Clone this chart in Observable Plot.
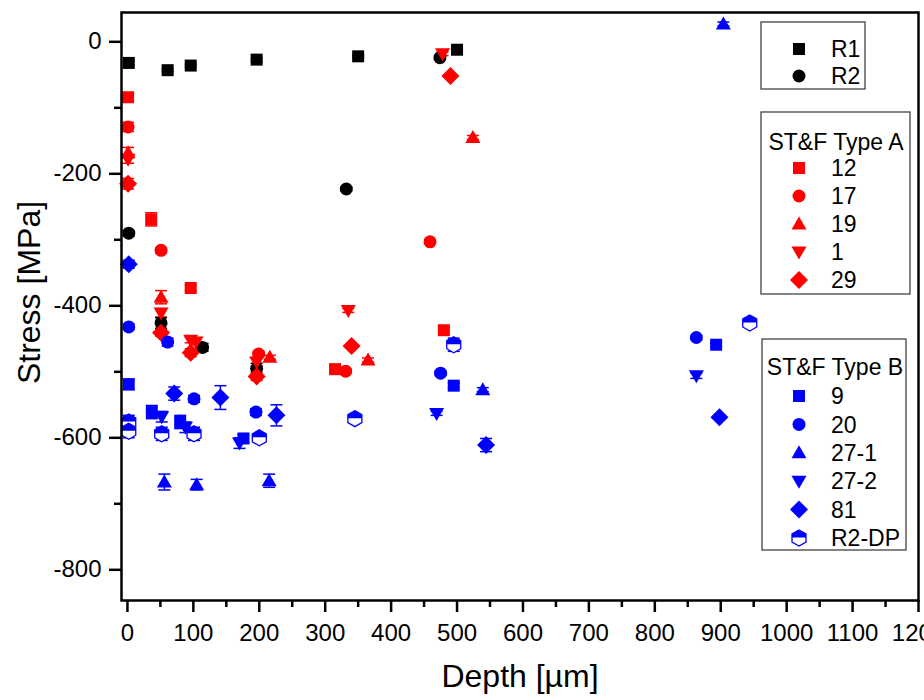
<!DOCTYPE html>
<html><head><meta charset="utf-8">
<script src="https://cdn.jsdelivr.net/npm/d3@7"></script>
<script src="https://cdn.jsdelivr.net/npm/@observablehq/plot@0.6"></script>
<style>body{margin:0;background:#fff;}</style>
</head><body><div id="chart"></div>
<script>
// ---------- data ----------
const depth_R1  = [2, 61, 96, 196, 350, 500];
const stress_R1 = [-32, -43, -36, -27, -22, -12];
const err_R1    = [3, 2, 2, 2, 2, 2];

const depth_R2  = [2, 51, 114, 196, 332, 474];
const stress_R2 = [-290, -426, -463, -495, -223, -24];
const err_R2    = [4, 8, 6, 8, 3, 3];

const depth_A12  = [1, 36, 96, 315, 480];
const stress_A12 = [-84, -269, -373, -496, -437];
const err_A12    = [4, 10, 4, 7, 3];

const depth_A17  = [1, 51, 199, 331, 459];
const stress_A17 = [-129, -316, -473, -499, -303];
const err_A17    = [7, 4, 4, 3, 3];

const depth_A19  = [1, 51, 216, 365, 524];
const stress_A19 = [-168, -387, -478, -482, -145];
const err_A19    = [8, 10, 3, 3, 3];

const depth_A1  = [1, 51, 96, 104, 196, 335, 478];
const stress_A1 = [-178, -411, -452, -455, -485, -407, -18];
const err_A1    = [6, 6, 4, 4, 6, 3, 3];

const depth_A29  = [1, 51, 96, 196, 340, 490];
const stress_A29 = [-215, -441, -471, -507, -461, -52];
const err_A29    = [8, 5, 6, 6, 3, 3];

const depth_B9  = [2, 37, 80, 176, 495, 893];
const stress_B9 = [-519, -561, -576, -601, -521, -459];
const err_B9    = [8, 10, 10, 6, 4, 3];

const depth_B20  = [2, 61, 101, 195, 475, 863];
const stress_B20 = [-432, -455, -541, -561, -502, -448];
const err_B20    = [4, 6, 5, 5, 3, 3];

const depth_B271  = [56, 105, 215, 539, 904];
const stress_B271 = [-667, -671, -665, -527, 27];
const err_B271    = [12, 8, 10, 3, 3];

const depth_B272  = [52, 88, 170, 469, 863];
const stress_B272 = [-568, -584, -608, -563, -506];
const err_B272    = [8, 8, 8, 3, 4];

const depth_B81  = [2, 71, 141, 226, 544, 898];
const stress_B81 = [-337, -533, -539, -566, -611, -569];
const err_B81    = [6, 10, 18, 16, 10, 3];

const depth_BDP  = [2, 2, 52, 101, 200, 345, 495, 944];
const stress_BDP = [-576, -590, -594, -594, -600, -571, -459, -426];
const err_BDP    = [10, 10, 10, 10, 6, 4, 10, 4];

const xTicksMajor = [0,100,200,300,400,500,600,700,800,900,1000,1100,1200];
const xTicksMinor = [50,150,250,350,450,550,650,750,850,950,1050,1150];
const yTicksMajor = [-800,-600,-400,-200,0];
const yTicksMinor = [-700,-500,-300,-100];

const legendGroup0 = ["R1","R2"];
const legendGroupA = ["12","17","19","1","29"];
const legendGroupB = ["9","20","27-1","27-2","81","R2-DP"];

// ---------- series table ----------
const series = [
  {name:"R1", depth:depth_R1, stress:stress_R1, err:err_R1},
  {name:"R2", depth:depth_R2, stress:stress_R2, err:err_R2},
  {name:"12", depth:depth_A12, stress:stress_A12, err:err_A12},
  {name:"17", depth:depth_A17, stress:stress_A17, err:err_A17},
  {name:"19", depth:depth_A19, stress:stress_A19, err:err_A19},
  {name:"1",  depth:depth_A1,  stress:stress_A1,  err:err_A1},
  {name:"29", depth:depth_A29, stress:stress_A29, err:err_A29},
  {name:"9",  depth:depth_B9,  stress:stress_B9,  err:err_B9},
  {name:"20", depth:depth_B20, stress:stress_B20, err:err_B20},
  {name:"27-1", depth:depth_B271, stress:stress_B271, err:err_B271},
  {name:"27-2", depth:depth_B272, stress:stress_B272, err:err_B272},
  {name:"81", depth:depth_B81, stress:stress_B81, err:err_B81},
  {name:"R2-DP", depth:depth_BDP, stress:stress_BDP, err:err_BDP}
];

// ---------- styles ----------
const styles = {
  "R1":{color:"#000000", shape:"square"}, "R2":{color:"#000000", shape:"circle"},
  "12":{color:"#ff0000", shape:"square"}, "17":{color:"#ff0000", shape:"circle"},
  "19":{color:"#ff0000", shape:"up"}, "1":{color:"#ff0000", shape:"down"},
  "29":{color:"#ff0000", shape:"diamond"},
  "9":{color:"#0000ff", shape:"square"}, "20":{color:"#0000ff", shape:"circle"},
  "27-1":{color:"#0000ff", shape:"up"}, "27-2":{color:"#0000ff", shape:"down"},
  "81":{color:"#0000ff", shape:"diamond"}, "R2-DP":{color:"#0000ff", shape:"hex"}
};

function poly(pts){
  return {draw(ctx, size){
    const k = Math.sqrt(size/Math.PI)/6;
    ctx.moveTo(pts[0][0]*k, pts[0][1]*k);
    for (let i=1;i<pts.length;i++) ctx.lineTo(pts[i][0]*k, pts[i][1]*k);
    ctx.closePath();
  }};
}
const symbols = {
  square: poly([[-6,-6],[6,-6],[6,6],[-6,6]]),
  circle: {draw(ctx,size){const r=6.5*Math.sqrt(size/Math.PI)/6; ctx.moveTo(r,0); ctx.arc(0,0,r,0,2*Math.PI);}},
  up: poly([[0,-7.5],[7.5,5.5],[-7.5,5.5]]),
  down: poly([[0,7.5],[7.5,-5.5],[-7.5,-5.5]]),
  diamond: poly([[0,-9],[9,0],[0,9],[-9,0]]),
  hex: poly([[0,-8],[7,-4],[7,4],[0,8],[-7,4],[-7,-4]]),
  hexTop: poly([[-7,-0.5],[-7,-4],[0,-8],[7,-4],[7,-0.5]]),
  cap: {draw(ctx,size){const k=Math.sqrt(size/Math.PI)/6; ctx.moveTo(-6*k,0); ctx.lineTo(6*k,0);}}
};

const rows = series.flatMap(s => s.depth.map((d,i) => ({
  series: s.name, depth: d, stress: s.stress[i], err: s.err[i], color: styles[s.name].color
})));

const errMarks = [
  Plot.ruleX(rows, {x:"depth", y1:d=>d.stress-d.err, y2:d=>d.stress+d.err, stroke:d=>d.color, strokeWidth:1.5}),
  Plot.dot(rows, {x:"depth", y:d=>d.stress-d.err, r:6, symbol:symbols.cap, fill:"none", stroke:d=>d.color, strokeWidth:1.5}),
  Plot.dot(rows, {x:"depth", y:d=>d.stress+d.err, r:6, symbol:symbols.cap, fill:"none", stroke:d=>d.color, strokeWidth:1.5})
];

const dotMarks = series.flatMap(s => {
  const st = styles[s.name];
  const data = rows.filter(r => r.series === s.name);
  if (st.shape === "hex") {
    return [
      Plot.dot(data, {x:"depth", y:"stress", r:6, symbol:symbols.hex, fill:"white", stroke:st.color, strokeWidth:1.3}),
      Plot.dot(data, {x:"depth", y:"stress", r:6, symbol:symbols.hexTop, fill:st.color})
    ];
  }
  return [Plot.dot(data, {x:"depth", y:"stress", r:6, symbol:symbols[st.shape], fill:st.color})];
});

const chart = Plot.plot({
  width: 924, height: 700,
  marginLeft: 121, marginTop: 12, marginRight: 6, marginBottom: 100,
  style: {fontFamily: "'Liberation Sans', Arial, sans-serif", fontSize: "24px", color: "black", background: "white"},
  x: {domain: [-9, 1200]},
  y: {domain: [-846.5, 44.4]},
  color: {type: "identity"},
  marks: [
    Plot.axisX({ticks: xTicksMajor, tickSize: 12, tickPadding: 11, strokeWidth: 2.5, fontSize: 24, tickFormat: d => String(d), label: null}),
    Plot.axisX({ticks: xTicksMinor, tickSize: 7, strokeWidth: 2.5, tickFormat: () => "", label: null}),
    Plot.axisY({ticks: yTicksMajor, tickSize: 12, tickPadding: 8, strokeWidth: 2.5, fontSize: 24, tickFormat: d => String(d), label: null}),
    Plot.axisY({ticks: yTicksMinor, tickSize: 7, strokeWidth: 2.5, tickFormat: () => "", label: null}),
    Plot.text(["Depth [µm]"], {frameAnchor: "bottom", textAnchor: "middle", dy: 86, fontSize: 32}),
    Plot.text(["Stress [MPa]"], {frameAnchor: "left", textAnchor: "middle", dx: -92, dy: -14, rotate: -90, fontSize: 32}),
    ...errMarks,
    ...dotMarks,
    Plot.frame({stroke: "black", strokeWidth: 2.5})
  ]
});
document.getElementById("chart").appendChild(chart);

// ---------- legends ----------
const g = d3.select(chart).append("g")
  .attr("font-family", "'Liberation Sans', Arial, sans-serif").attr("font-size", 23).attr("fill", "black");
function box(x, y, w, h) {
  g.append("rect").attr("x", x).attr("y", y).attr("width", w).attr("height", h)
    .attr("fill", "white").attr("stroke", "#444").attr("stroke-width", 1.3);
}
function item(name, cy) {
  const st = styles[name];
  const size = 36 * Math.PI;
  if (st.shape === "hex") {
    g.append("path").attr("transform", `translate(799,${cy})`).attr("d", d3.symbol(symbols.hex, size)())
      .attr("fill", "white").attr("stroke", st.color).attr("stroke-width", 1.3);
    g.append("path").attr("transform", `translate(799,${cy})`).attr("d", d3.symbol(symbols.hexTop, size)())
      .attr("fill", st.color);
  } else {
    g.append("path").attr("transform", `translate(799,${cy})`).attr("d", d3.symbol(symbols[st.shape], size)())
      .attr("fill", st.color);
  }
  g.append("text").attr("x", 831).attr("y", cy).attr("dy", "0.36em").attr("text-anchor", "start").text(name);
}
function title(t, cx, cy) {
  g.append("text").attr("x", cx).attr("y", cy).attr("dy", "0.36em").attr("text-anchor", "middle").text(t);
}
box(761, 22, 104, 67);
legendGroup0.forEach((n, i) => item(n, 49 + i * 27));
box(761, 112, 149, 182);
title("ST&F Type A", 836, 142);
legendGroupA.forEach((n, i) => item(n, 168 + i * 28));
box(762, 339, 144, 211);
title("ST&F Type B", 835, 367);
legendGroupB.forEach((n, i) => item(n, 396 + i * 28.4));
</script>
</body></html>
